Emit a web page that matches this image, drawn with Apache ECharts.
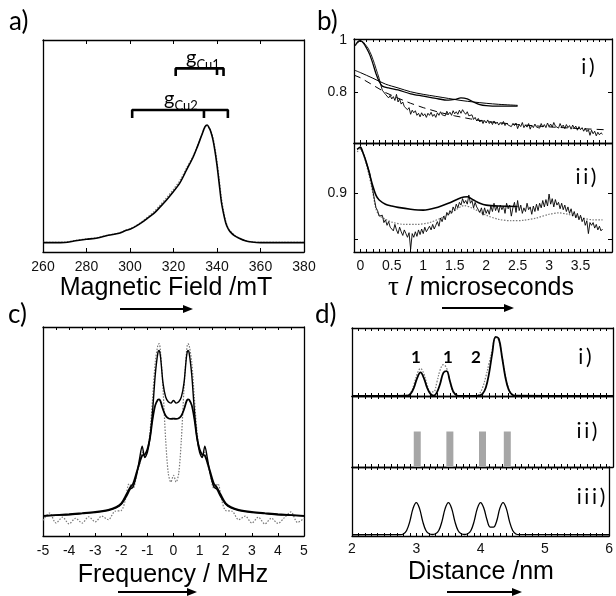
<!DOCTYPE html>
<html><head><meta charset="utf-8">
<script src="https://cdn.jsdelivr.net/npm/echarts@6/dist/echarts.min.js"></script>
<style>html,body{margin:0;padding:0;background:#fff}#c{width:616px;height:596px}</style>
</head><body><div id="c"></div>
<script>
// ---------- Panel a: EPR field sweep ----------
const aField = [260,265,270,275,280,285,290,295,298,300,303,306,308,311,314,317,320,323,326,329,331,333,334.5,335.5,336.5,337,338,339,340,341,342,343,344,345,346,348,350,353,356,360,370,380];
const aSolid = [0.044,0.044,0.045,0.053,0.060,0.066,0.079,0.088,0.101,0.107,0.123,0.143,0.159,0.182,0.214,0.248,0.285,0.327,0.387,0.447,0.497,0.552,0.591,0.599,0.583,0.572,0.536,0.481,0.410,0.324,0.237,0.182,0.138,0.112,0.096,0.077,0.066,0.053,0.047,0.044,0.044,0.044];
const aDotted = [0.046,0.045,0.047,0.055,0.062,0.068,0.080,0.090,0.102,0.109,0.126,0.147,0.164,0.190,0.223,0.258,0.296,0.338,0.396,0.453,0.500,0.552,0.588,0.597,0.585,0.576,0.545,0.495,0.428,0.345,0.257,0.195,0.147,0.117,0.100,0.079,0.067,0.054,0.048,0.045,0.045,0.045];
const aTicks = [260,280,300,320,340,360,380];
const gCu1 = [321, 340, 343];   // left end, g-tick, right end (mT)
const gCu2 = [301, 334, 345];
const gCu1Level = [0.866, 0.830];  // bar, foot
const gCu2Level = [0.670, 0.632];

// ---------- Panel b: time traces ----------
const bTime = [
 -0.05,-0.025,0,0.025,0.05,0.075,0.1,0.125,0.15,0.175,
 0.2,0.225,0.25,0.275,0.3,0.325,0.35,0.375,0.4,0.425,
 0.45,0.475,0.5,0.525,0.55,0.575,0.6,0.625,0.65,0.675,
 0.7,0.725,0.75,0.775,0.8,0.825,0.85,0.875,0.9,0.925,
 0.95,0.975,1,1.025,1.05,1.075,1.1,1.125,1.15,1.175,
 1.2,1.225,1.25,1.275,1.3,1.325,1.35,1.375,1.4,1.425,
 1.45,1.475,1.5,1.525,1.55,1.575,1.6,1.625,1.65,1.675,
 1.7,1.725,1.75,1.775,1.8,1.825,1.85,1.875,1.9,1.925,
 1.95,1.975,2,2.025,2.05,2.075,2.1,2.125,2.15,2.175,
 2.2,2.225,2.25,2.275,2.3,2.325,2.35,2.375,2.4,2.425,
 2.45,2.475,2.5,2.525,2.55,2.575,2.6,2.625,2.65,2.675,
 2.7,2.725,2.75,2.775,2.8,2.825,2.85,2.875,2.9,2.925,
 2.95,2.975,3,3.025,3.05,3.075,3.1,3.125,3.15,3.175,
 3.2,3.225,3.25,3.275,3.3,3.325,3.35,3.375,3.4,3.425,
 3.45,3.475,3.5,3.525,3.55,3.575,3.6,3.625,3.65,3.675,
 3.7,3.725,3.75,3.775,3.8,3.825,3.85];
const bUpperNoisy = [
 0.990,0.996,0.999,0.997,0.994,0.986,0.978,0.970,0.957,0.944,
 0.927,0.910,0.890,0.871,0.852,0.828,0.806,0.812,0.790,0.796,
 0.776,0.786,0.772,0.781,0.766,0.790,0.760,0.772,0.752,0.760,
 0.742,0.748,0.730,0.738,0.712,0.728,0.718,0.726,0.708,0.716,
 0.702,0.718,0.706,0.714,0.700,0.716,0.708,0.720,0.704,0.712,
 0.700,0.718,0.708,0.722,0.710,0.716,0.706,0.724,0.712,0.720,
 0.708,0.726,0.714,0.722,0.712,0.728,0.716,0.730,0.720,0.712,
 0.722,0.706,0.700,0.710,0.692,0.700,0.686,0.696,0.682,0.690,
 0.676,0.688,0.678,0.690,0.676,0.684,0.672,0.686,0.674,0.682,
 0.670,0.680,0.672,0.684,0.668,0.678,0.670,0.676,0.664,0.676,
 0.668,0.678,0.656,0.672,0.664,0.680,0.660,0.670,0.662,0.676,
 0.654,0.670,0.660,0.674,0.662,0.668,0.658,0.676,0.662,0.672,
 0.660,0.678,0.664,0.674,0.662,0.680,0.666,0.672,0.658,0.676,
 0.662,0.670,0.656,0.672,0.660,0.668,0.654,0.670,0.658,0.666,
 0.650,0.664,0.652,0.660,0.646,0.658,0.644,0.652,0.630,0.650,
 0.636,0.646,0.628,0.642,0.632,0.640,0.634];
const bLowerNoisy = [
 0.995,0.998,1.000,0.992,0.986,0.976,0.965,0.955,0.944,0.924,
 0.905,0.886,0.868,0.862,0.850,0.846,0.852,0.836,0.842,0.830,
 0.838,0.826,0.830,0.818,0.832,0.820,0.812,0.826,0.816,0.808,
 0.820,0.812,0.804,0.814,0.778,0.812,0.804,0.816,0.806,0.820,
 0.810,0.822,0.812,0.826,0.816,0.812,0.828,0.820,0.832,0.822,
 0.830,0.838,0.828,0.846,0.838,0.850,0.842,0.858,0.852,0.862,
 0.856,0.870,0.862,0.876,0.868,0.880,0.874,0.888,0.878,0.884,
 0.876,0.896,0.878,0.884,0.868,0.880,0.870,0.874,0.858,0.868,
 0.852,0.868,0.856,0.864,0.854,0.872,0.860,0.878,0.862,0.872,
 0.858,0.874,0.864,0.872,0.856,0.878,0.866,0.874,0.850,0.868,
 0.880,0.858,0.884,0.862,0.874,0.856,0.868,0.860,0.878,0.864,
 0.870,0.854,0.872,0.860,0.876,0.862,0.878,0.868,0.884,0.870,
 0.886,0.872,0.898,0.876,0.888,0.870,0.886,0.874,0.880,0.866,
 0.878,0.864,0.874,0.860,0.870,0.856,0.866,0.850,0.860,0.846,
 0.856,0.842,0.852,0.838,0.846,0.830,0.840,0.812,0.836,0.830,
 0.836,0.824,0.832,0.820,0.828,0.818,0.822];
const bUpperWavyT = [-0.08,-0.04,0,0.05,0.1,0.15,0.2,0.25,0.3,0.35,0.45,0.6,0.8,1.0,1.2,1.4,1.5,1.6,1.7,1.8,1.9,2.0,2.2,2.5];
const bUpperWavy = [0.98,0.995,1.0,0.99,0.97,0.945,0.91,0.87,0.84,0.822,0.815,0.807,0.792,0.783,0.774,0.767,0.77,0.776,0.772,0.76,0.75,0.746,0.744,0.744];
const bUpperFitT = [-0.1,0,0.2,0.4,0.6,0.8,1.0,1.2,1.4,1.6,1.8,2.0,2.2,2.5];
const bUpperFit = [0.885,0.875,0.853,0.83,0.815,0.8,0.79,0.782,0.774,0.766,0.76,0.755,0.751,0.747];
const bUpperBgT = [-0.1,0,0.2,0.4,0.6,0.8,1.0,1.25,1.5,1.75,2.0,2.5,3.0,3.5,3.88];
const bUpperBg = [0.865,0.855,0.826,0.797,0.775,0.755,0.738,0.72,0.706,0.694,0.684,0.672,0.663,0.656,0.652];
const bLowerWavyT = [-0.05,0,0.05,0.1,0.15,0.2,0.25,0.3,0.4,0.5,0.6,0.8,1.0,1.2,1.4,1.6,1.7,1.8,1.9,2.0,2.2,2.5];
const bLowerWavy = [0.995,1.0,0.985,0.965,0.94,0.915,0.895,0.885,0.876,0.872,0.869,0.865,0.863,0.868,0.878,0.89,0.892,0.885,0.878,0.874,0.872,0.871];
const bLowerFitT = [-0.05,0,0.1,0.2,0.25,0.3,0.4,0.5,0.7,0.9,1.1,1.3,1.5,1.65,1.8,2.0,2.2,2.4,2.6,2.8,3.0,3.15,3.3,3.5,3.7,3.85];
const bLowerFit = [0.99,0.995,0.96,0.9,0.865,0.852,0.843,0.837,0.832,0.832,0.836,0.847,0.862,0.873,0.866,0.852,0.843,0.84,0.841,0.846,0.854,0.857,0.854,0.847,0.842,0.842];
const bTickLabels = [0,0.5,1,1.5,2,2.5,3,3.5];
const bUpperYLabels = [0.8, 1];
const bLowerYLabels = [0.9];

// ---------- Panel c: frequency spectra ----------
const cFreq = [-5,-4.5,-4,-3.5,-3,-2.5,-2.2,-2,-1.8,-1.65,-1.55,-1.4,-1.3,-1.2,-1.1,-1,-0.9,-0.8,-0.7,-0.6,-0.55,-0.5,-0.4,-0.3,-0.2,-0.1,0,0.1,0.2,0.3,0.4,0.5,0.55,0.6,0.7,0.8,0.9,1,1.1,1.2,1.3,1.4,1.55,1.65,1.8,2,2.2,2.5,3,3.5,4,4.5,5];
const cTall = [0.096,0.099,0.102,0.107,0.112,0.122,0.135,0.152,0.19,0.225,0.235,0.3,0.37,0.43,0.375,0.4,0.47,0.6,0.77,0.875,0.888,0.86,0.73,0.665,0.642,0.636,0.648,0.636,0.642,0.665,0.73,0.86,0.888,0.875,0.77,0.6,0.47,0.4,0.375,0.43,0.37,0.3,0.235,0.225,0.19,0.152,0.135,0.122,0.112,0.107,0.102,0.099,0.096];
const cLow = [0.096,0.1,0.104,0.109,0.115,0.125,0.138,0.156,0.2,0.235,0.25,0.31,0.35,0.385,0.39,0.415,0.47,0.56,0.625,0.652,0.654,0.645,0.605,0.575,0.563,0.56,0.562,0.56,0.563,0.575,0.605,0.645,0.654,0.652,0.625,0.56,0.47,0.415,0.39,0.385,0.35,0.31,0.25,0.235,0.2,0.156,0.138,0.125,0.115,0.109,0.104,0.1,0.096];
const cFreqDot = [-5,-4.75,-4.5,-4.25,-4,-3.75,-3.5,-3.25,-3,-2.75,-2.5,-2.25,-2,-1.85,-1.7,-1.55,-1.4,-1.3,-1.2,-1.1,-1,-0.9,-0.8,-0.7,-0.6,-0.55,-0.5,-0.4,-0.3,-0.2,-0.1,0,0.1,0.2,0.3,0.4,0.5,0.55,0.6,0.7,0.8,0.9,1,1.1,1.2,1.3,1.4,1.55,1.7,1.85,2,2.25,2.5,2.75,3,3.25,3.5,3.75,4,4.25,4.5,4.75,5];
const cDot = [0.075,0.11,0.062,0.09,0.058,0.085,0.062,0.092,0.068,0.095,0.078,0.118,0.122,0.17,0.25,0.228,0.3,0.345,0.4,0.385,0.41,0.5,0.66,0.83,0.912,0.92,0.885,0.7,0.46,0.3,0.258,0.29,0.258,0.3,0.46,0.7,0.885,0.92,0.912,0.83,0.66,0.5,0.41,0.385,0.4,0.345,0.3,0.228,0.25,0.17,0.122,0.118,0.078,0.095,0.062,0.09,0.058,0.085,0.06,0.088,0.115,0.065,0.085];
const cTickLabels = [-5,-4,-3,-2,-1,0,1,2,3,4,5];

// ---------- Panel d: distance distributions ----------
const dX1 = [2,2.85,2.9,2.95,3,3.05,3.1,3.15,3.2,3.25,3.3,3.35,3.4,3.45,3.5,3.55,3.6,3.65,3.9,3.95,4,4.05,4.1,4.15,4.2,4.25,4.3,4.35,4.4,4.45,4.5,6];
const dSolid1 = [0,0.005,0.035,0.125,0.268,0.346,0.268,0.125,0.035,0.006,0.05,0.177,0.34,0.365,0.22,0.068,0.012,0,0,0.006,0.031,0.12,0.33,0.63,0.87,0.84,0.57,0.28,0.095,0.023,0.004,0];
const dDot1 = [0,0.01,0.05,0.17,0.33,0.405,0.33,0.17,0.06,0.06,0.2,0.38,0.46,0.41,0.22,0.06,0.012,0,0,0.03,0.12,0.28,0.48,0.68,0.85,0.82,0.58,0.3,0.11,0.03,0.005,0];
const dBarX = [3.0, 3.5, 4.0, 4.38];
const dBarH = [0.5, 0.5, 0.5, 0.5];
const dX3 = [2,2.75,2.8,2.85,2.9,2.95,3,3.05,3.1,3.15,3.2,3.25,3.3,3.35,3.4,3.45,3.5,3.55,3.6,3.65,3.7,3.75,3.8,3.85,3.9,3.95,4,4.05,4.1,4.15,4.2,4.25,4.3,4.35,4.4,4.45,4.5,4.55,4.6,6];
const dIII = [0.018,0.02,0.03,0.08,0.212,0.4,0.485,0.4,0.212,0.08,0.032,0.022,0.032,0.08,0.212,0.4,0.485,0.4,0.212,0.08,0.032,0.022,0.032,0.08,0.212,0.4,0.485,0.405,0.235,0.13,0.128,0.215,0.4,0.485,0.4,0.212,0.08,0.03,0.02,0.018];
const dTickLabels = [2,3,4,5,6];
const dPeakLabels = ['1','1','2'];

// ---------- build ----------
const tenths = (a, b) => { const r = []; for (let v = Math.round(a*10); v <= Math.round(b*10); v++) r.push(v/10); return r; };
const bTicks = tenths(-0.1, 4.0);
const dTicks = tenths(2, 6);
const FONT = 'Liberation Sans, Arial, sans-serif';
const LBL = {show:true, fontFamily:FONT, fontSize:14, color:'#111'};
const tIn = (len, extra) => Object.assign({show:true, inside:true, length:len, lineStyle:{color:'#000', width:1}}, extra||{});
const xAxes = [], yAxes = [];
function base(grid, pos, min, max) {
  return {type:'value', gridIndex:grid, position:pos, min, max,
    axisLine:{show:true, onZero:false, lineStyle:{color:'#000', width:1.3}},
    splitLine:{show:false}, axisTick:{show:false}, axisLabel:{show:false}};
}
function addX(grid, pos, min, max, o) { xAxes.push(Object.assign(base(grid,pos,min,max), o||{})); return xAxes.length-1; }
function addY(grid, pos, min, max, o) { yAxes.push(Object.assign(base(grid,pos,min,max), o||{})); return yAxes.length-1; }

const grids = [
  {left:43, top:40, width:261, height:212},
  {left:354, top:39, width:258, height:104},
  {left:354, top:143, width:258, height:109},
  {left:43, top:327, width:261, height:209},
  {left:352, top:328, width:261, height:68},
  {left:352, top:396, width:261, height:71},
  {left:352, top:467, width:261, height:69}
].map(g => Object.assign(g, {show:false}));

// a
const xa = addX(0,'bottom',260,380,{interval:20, axisTick:tIn(4), axisLabel:Object.assign({}, LBL, {margin:8, customValues:aTicks})});
addX(0,'top',260,380,{interval:20, axisTick:tIn(4)});
const ya = addY(0,'left',0,1);
addY(0,'right',0,1);
// b upper
const xb1 = addX(1,'bottom',-0.1,4.0,{axisTick:tIn(3, {customValues:bTicks})});
addX(1,'top',-0.1,4.0,{axisTick:tIn(3, {customValues:bTicks})});
const yb1 = addY(1,'left',0.6,1.006,{axisTick:tIn(4, {customValues:[0.8]}),
  axisLabel:Object.assign({}, LBL, {margin:7, customValues:bUpperYLabels, formatter:v => String(+v.toFixed(1))})});
addY(1,'right',0.6,1.006,{axisTick:tIn(4, {customValues:[0.8]})});
// b lower
const xb2 = addX(2,'bottom',-0.1,4.0,{axisTick:tIn(3, {customValues:bTicks}),
  axisLabel:Object.assign({}, LBL, {margin:7, customValues:bTickLabels, formatter:v => String(+v.toFixed(1))})});
addX(2,'top',-0.1,4.0,{axisTick:tIn(3, {customValues:bTicks})});
const yb2 = addY(2,'left',0.772,1.009,{axisTick:tIn(4, {customValues:[0.8,0.9]}),
  axisLabel:Object.assign({}, LBL, {margin:7, customValues:bLowerYLabels, formatter:v => String(+v.toFixed(1))})});
addY(2,'right',0.772,1.009,{axisTick:tIn(4, {customValues:[0.8,0.9]})});
// c
const xc = addX(3,'bottom',-5,5,{interval:1, axisTick:tIn(3), axisLabel:Object.assign({}, LBL, {margin:8, customValues:cTickLabels})});
addX(3,'top',-5,5,{interval:0.5, axisTick:tIn(3)});
const yc = addY(3,'left',0,1);
addY(3,'right',0,1);
// d
const xd = [], yd = [];
for (let k = 0; k < 3; k++) {
  const o = {interval:1, axisTick:tIn(3, {customValues:dTicks})};
  if (k === 2) o.axisLabel = Object.assign({}, LBL, {margin:6, customValues:dTickLabels});
  xd.push(addX(4+k,'bottom',2,6,o));
  addX(4+k,'top',2,6,{interval:1, axisTick:tIn(3, {customValues:dTicks})});
  yd.push(addY(4+k,'left',0,1));
  addY(4+k,'right',0,1);
}

const zip = (xs, ys) => xs.map((x, i) => [x, ys[i]]);
function line(xi, yi, xs, ys, style, extra) {
  return Object.assign({type:'line', xAxisIndex:xi, yAxisIndex:yi, data:zip(xs, ys), showSymbol:false, symbol:'none',
    lineStyle:Object.assign({color:'#000', width:1.2}, style), animation:false, silent:true, z:3}, extra||{});
}
const DOT = {color:'#777', width:1.2, type:[1.5,1.5]};
const series = [
  line(xa, ya, aField, aDotted, DOT, {smooth:0.3}),
  line(xa, ya, aField, aSolid, {width:1.6}, {smooth:0.3}),
  // g-value brackets
  line(xa, ya, [gCu1[0], gCu1[0], gCu1[2], gCu1[2]], [gCu1Level[1], gCu1Level[0], gCu1Level[0], gCu1Level[1]], {width:2.6}),
  line(xa, ya, [gCu1[1], gCu1[1]], [gCu1Level[0], gCu1Level[1]+0.005], {width:2.6}),
  line(xa, ya, [gCu2[0], gCu2[0], gCu2[2], gCu2[2]], [gCu2Level[1], gCu2Level[0], gCu2Level[0], gCu2Level[1]], {width:2.6}),
  line(xa, ya, [gCu2[1], gCu2[1]], [gCu2Level[0], gCu2Level[1]], {width:2.6}),
  // b upper
  line(xb1, yb1, bUpperBgT, bUpperBg, {width:1, type:[7,5]}),
  line(xb1, yb1, bTime, bUpperNoisy, {width:0.9}),
  line(xb1, yb1, bUpperFitT, bUpperFit, {width:1}, {smooth:0.3}),
  line(xb1, yb1, bUpperWavyT, bUpperWavy, {width:1.3}, {smooth:0.3}),
  // b lower
  line(xb2, yb2, bLowerFitT, bLowerFit, DOT, {smooth:0.3}),
  line(xb2, yb2, bTime, bLowerNoisy, {width:0.9}),
  line(xb2, yb2, bLowerWavyT, bLowerWavy, {width:1.6}, {smooth:0.3}),
  // c
  line(xc, yc, cFreqDot, cDot, DOT, {smooth:0.3}),
  line(xc, yc, cFreq, cTall, {width:1.4}, {smooth:0.3}),
  line(xc, yc, cFreq, cLow, {width:1.8}, {smooth:0.3}),
  // d i
  line(xd[0], yd[0], dX1, dDot1, DOT, {smooth:0.4}),
  line(xd[0], yd[0], dX1, dSolid1, {width:1.8}, {smooth:0.4}),
  // d ii
  {type:'bar', xAxisIndex:xd[1], yAxisIndex:yd[1], data:zip(dBarX, dBarH), barWidth:7, itemStyle:{color:'#a6a6a6'}, animation:false, silent:true},
  // d iii
  line(xd[2], yd[2], dX3, dIII, {width:1.3}, {smooth:0.4})
];

// annotations (text & arrows)
const txt = (x, y, text, font, align, extra) => Object.assign({type:'text', x, y, silent:true, z:10,
  style:{text, font, fill:'#000', align:align||'center', verticalAlign:'middle'}}, extra||{});
function arrow(x1, x2, y) {
  return {type:'group', silent:true, children:[
    {type:'line', shape:{x1, y1:y, x2:x2-8, y2:y}, style:{stroke:'#000', lineWidth:2}},
    {type:'polygon', shape:{points:[[x2-10,y-4],[x2,y],[x2-10,y+4]]}, style:{fill:'#000'}}
  ]};
}
const TITLE = '25px ' + FONT;
const LET = '26px Lato, "Open Sans", sans-serif';
const ROM = '21px Lato, "Open Sans", sans-serif';
const graphic = [
  txt(9, 22, 'a)', LET, 'left'),
  txt(317, 22, 'b)', LET, 'left'),
  txt(8, 315, 'c)', LET, 'left'),
  txt(315, 315, 'd)', LET, 'left'),
  txt(166, 288, 'Magnetic Field /mT', TITLE),
  {type:'text', x:481, y:288, silent:true, z:10, style:{text:'{t|τ} / microseconds', font:TITLE, fill:'#000', align:'center', verticalAlign:'middle',
    rich:{t:{fontFamily:'Liberation Serif', fontSize:27, fill:'#000'}}}},
  txt(173, 575, 'Frequency / MHz', TITLE),
  txt(481, 572, 'Distance /nm', TITLE),
  arrow(120, 193, 309), arrow(442, 514, 308), arrow(118, 197, 592), arrow(447, 522, 592),
  txt(588, 67, 'i\u2009)', ROM), txt(586, 177, 'i\u2009i\u2009)', ROM),
  txt(585, 357, 'i\u2009)', ROM), txt(587, 431, 'i\u2009i\u2009)', ROM), txt(591, 497, 'i\u2009i\u2009i\u2009)', ROM),
  txt(416, 358, dPeakLabels[0], 'bold 17px Lato, sans-serif'),
  txt(448, 358, dPeakLabels[1], 'bold 17px Lato, sans-serif'),
  txt(476, 358, dPeakLabels[2], 'bold 17px Lato, sans-serif'),
  {type:'text', x:203, y:58, silent:true, z:10, style:{text:'{g|g}{s|Cu1}', align:'center', verticalAlign:'middle',
    rich:{g:{fontFamily:'Lato', fontSize:20, lineHeight:26, verticalAlign:'middle', fill:'#000'}, s:{fontFamily:'Lato', fontSize:13, lineHeight:13, verticalAlign:'bottom', fill:'#000'}}}},
  {type:'text', x:181, y:99, silent:true, z:10, style:{text:'{g|g}{s|Cu2}', align:'center', verticalAlign:'middle',
    rich:{g:{fontFamily:'Lato', fontSize:20, lineHeight:26, verticalAlign:'middle', fill:'#000'}, s:{fontFamily:'Lato', fontSize:13, lineHeight:13, verticalAlign:'bottom', fill:'#000'}}}}
];

const chart = echarts.init(document.getElementById('c'), null, {renderer:'canvas'});
chart.setOption({animation:false, backgroundColor:'#fff', grid:grids, xAxis:xAxes, yAxis:yAxes, series, graphic});
</script></body></html>
